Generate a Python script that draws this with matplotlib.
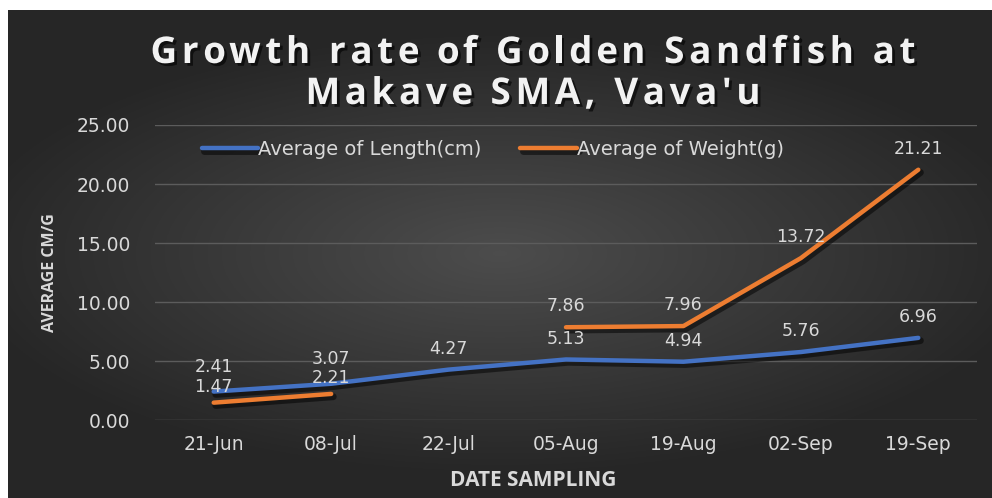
import matplotlib
matplotlib.use('Agg')
import matplotlib.pyplot as plt
import matplotlib.patheffects as pe
import numpy as np
from matplotlib import font_manager

# data
dates = ['21-Jun', '08-Jul', '22-Jul', '05-Aug', '19-Aug', '02-Sep', '19-Sep']
length_cm = [2.41, 3.07, 4.27, 5.13, 4.94, 5.76, 6.96]
weight_g = [1.47, 2.21, None, 7.86, 7.96, 13.72, 21.21]
yticks = [0, 5, 10, 15, 20, 25]
title_lines = ["Growth rate of Golden Sandfish at", "Makave SMA, Vava'u"]

names = set(f.name for f in font_manager.fontManager.ttflist)
head = 'Open Sans' if 'Open Sans' in names else 'DejaVu Sans'
plt.rcParams['font.family'] = ['DejaVu Sans']

txt = '#d9d9d9'
blue = '#4472C4'
orange = '#ED7D31'
W, H = 992, 498

fig = plt.figure(figsize=(W/100, H/100), dpi=100)
fig.patch.set_facecolor('white')

# dark radial gradient background (thin white edge top/left)
bg = fig.add_axes([8/W, 0, 1 - 8/W, 1 - 10/H])
yy, xx = np.mgrid[-1:1:300j, -1:1:600j]
r = np.sqrt((xx * 0.9) ** 2 + (yy * 1.1) ** 2)
shade = np.clip(0.30 - 0.15 * r, 0.15, 0.30)
bg.imshow(np.dstack([shade, shade, shade]), aspect='auto', extent=[0, 1, 0, 1])
bg.axis('off')

ax = fig.add_axes([155/W, 1 - 420/H, (977-155)/W, (420-125)/H])
ax.set_facecolor('none')
x = np.arange(len(dates))

shadow = [pe.SimpleLineShadow(offset=(1.5, -2), shadow_color='black', alpha=0.5, linewidth=5), pe.Normal()]
w = np.array([np.nan if v is None else v for v in weight_g], dtype=float)
ax.plot(x, length_cm, color=blue, lw=3.2, solid_capstyle='round', label='Average of Length(cm)', path_effects=shadow, zorder=3)
ax.plot(x, w, color=orange, lw=3.2, solid_capstyle='round', label='Average of Weight(g)', path_effects=shadow, zorder=3)

# label offsets in points; the first two pairs sit close together
len_off = [18, 18, 15, 15, 15, 15, 15]
wt_off = [11.5, 11.5, 15, 15, 15, 15, 15]
for i, v in enumerate(length_cm):
    ax.annotate(f'{v:.2f}', (i, v), xytext=(0, len_off[i]), textcoords='offset points',
                ha='center', va='center', color=txt, fontsize=12.5, zorder=4)
for i, v in enumerate(weight_g):
    if v is None:
        continue
    ax.annotate(f'{v:.2f}', (i, v), xytext=(0, wt_off[i]), textcoords='offset points',
                ha='center', va='center', color=txt, fontsize=12.5, zorder=4)

ax.set_xlim(-0.5, len(dates) - 0.5)
ax.set_ylim(0, 25)
ax.set_yticks(yticks)
ax.set_yticklabels([f'{t:.2f}' for t in yticks])
ax.set_xticks(x)
ax.set_xticklabels(dates)
ax.tick_params(colors=txt, labelsize=13.5, length=0, pad=11)
ax.tick_params(axis='y', pad=18)
ax.grid(axis='y', color='#5c5c5c', lw=1)
ax.set_axisbelow(True)
for s in ax.spines.values():
    s.set_visible(False)

ax.set_xlabel('DATE SAMPLING', color=txt, fontsize=15, fontweight='bold', family=head)
ax.xaxis.set_label_coords((533-155)/822, -(470-420)/295)
ax.set_ylabel('AVERAGE CM/G', color=txt, fontsize=11.5, fontweight='bold', family=head)
ax.yaxis.set_label_coords((58-155)/822, 0.5)

leg = ax.legend(loc='center', bbox_to_anchor=(0.411, 0.918), ncol=2, frameon=False,
                fontsize=14, handlelength=2.9, handletextpad=0.0, columnspacing=2.0)
for t in leg.get_texts():
    t.set_color(txt)

# title: the reference letters are spread wide, so lay the characters out with a little extra tracking
tkw = dict(color='#f2f2f2', fontsize=26.5, fontweight='bold', family=head)
rend = fig.canvas.get_renderer()

def text_w(s):
    t = fig.text(0, 0, s, **tkw)
    wd = t.get_window_extent(rend).width
    t.remove()
    return wd

base_w = text_w('xx')
widths = [[text_w('x' + c + 'x') - base_w for c in line] for line in title_lines]
track = max(0, (765 - sum(widths[0])) / (len(title_lines[0]) - 1))
title_shadow = [pe.SimplePatchShadow(offset=(2, -2), shadow_rgbFace='black', alpha=0.6), pe.Normal()]
for line, ws, base_y in zip(title_lines, widths, [63, 104]):
    total = sum(ws) + track * (len(line) - 1)
    xpos = 533 - total / 2
    for c, cw in zip(line, ws):
        if c != ' ':
            fig.text(xpos / W, 1 - base_y / H, c, ha='left', va='baseline',
                     path_effects=title_shadow, **tkw)
        xpos += cw + track

fig.savefig('out.png', dpi=100, facecolor=fig.get_facecolor())
